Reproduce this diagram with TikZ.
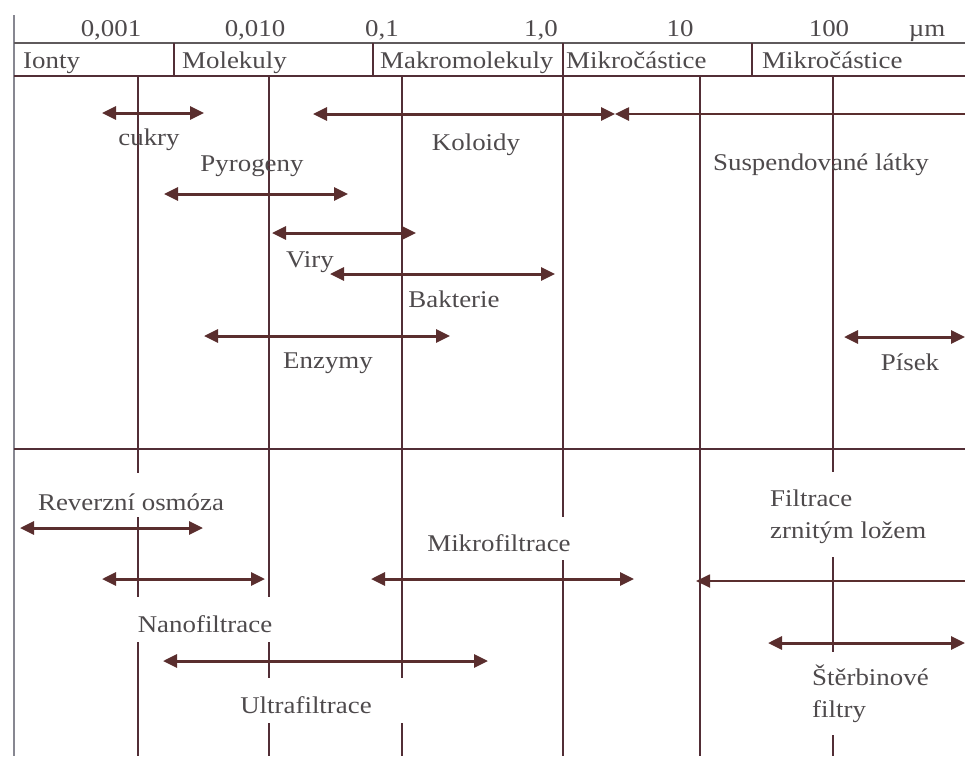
\documentclass[tikz,border=0pt]{standalone}
\usepackage{fontspec}
\setmainfont[FakeStretch=1.12]{Liberation Serif}
\usetikzlibrary{arrows.meta}
\definecolor{gridcol}{RGB}{82,46,54}
\definecolor{arrcol}{RGB}{90,46,46}
\definecolor{txtcol}{RGB}{78,74,76}
\definecolor{framecol}{RGB}{135,135,145}
\definecolor{headcol}{RGB}{95,90,92}
\begin{document}
\begin{tikzpicture}[x=1pt,y=-1pt,
  >={Triangle[length=14pt,width=13pt]},
  lbl/.style={text=txtcol,font=\fontsize{24}{28}\selectfont,inner sep=0pt,anchor=base},
  lblw/.style={lbl,anchor=base west},
  gridline/.style={draw=gridcol,line width=1.6pt},
  frameline/.style={draw=framecol,line width=2pt},
  rng/.style={draw=arrcol,line width=3pt,<->},
  rngl/.style={draw=arrcol,line width=2.6pt,<-}]
\useasboundingbox (0,0) rectangle (965,756);

% size scale
\node[lbl] (s1) at (111,36) {0,001};
\node[lbl] (s2) at (255,36) {0,010};
\node[lbl] (s3) at (382,36) {0,1};
\node[lbl] (s4) at (541,36) {1,0};
\node[lbl] (s5) at (680,36) {10};
\node[lbl] (s6) at (829,36) {100};
\node[lbl] (s7) at (927,36) {µm};

% header row with particle classes
\draw[frameline] (14,15) -- (14,756);
\draw[draw=headcol,line width=1.8pt] (14,43) -- (965,43);
\draw[draw=gridcol,line width=2pt] (14,76) -- (965,76);
\draw[gridline] (174,43) -- (174,76);
\draw[gridline] (373,43) -- (373,76);
\draw[gridline] (752,43) -- (752,76);
\node[lblw] (h1) at (23,68) {Ionty};
\node[lblw] (h2) at (182,68) {Molekuly};
\node[lblw] (h3) at (380,68) {Makromolekuly};
\node[lblw] (h4) at (566,68) {Mikročástice};
\node[lblw] (h5) at (762,68) {Mikročástice};

% divider between particles and separation processes
\draw[draw=gridcol,line width=1.8pt] (14,449) -- (965,449);

% decade grid lines (interrupted behind lower labels)
\draw[gridline] (138,76) -- (138,473) (138,517) -- (138,597) (138,642) -- (138,756);
\draw[gridline] (269,76) -- (269,597) (269,642) -- (269,678) (269,723) -- (269,756);
\draw[gridline] (402,76) -- (402,678) (402,723) -- (402,756);
\draw[gridline] (563,43) -- (563,517) (563,560) -- (563,756);
\draw[gridline] (700,76) -- (700,756);
\draw[gridline] (833,76) -- (833,472) (833,557) -- (833,652) (833,735) -- (833,756);

% particle ranges
\coordinate (cuA) at (102,113);  \coordinate (cuB) at (204,113);
\coordinate (koA) at (313,114);  \coordinate (koB) at (615,114);
\coordinate (suA) at (615,114);  \coordinate (suB) at (965,114);
\coordinate (pyA) at (164,194);  \coordinate (pyB) at (348,194);
\coordinate (viA) at (272,233);  \coordinate (viB) at (416,233);
\coordinate (baA) at (330,274);  \coordinate (baB) at (555,274);
\coordinate (enA) at (204,336);  \coordinate (enB) at (450,336);
\coordinate (piA) at (844,337);  \coordinate (piB) at (965,337);

\draw[rng] (cuA) -- (cuB);
\draw[rng] (koA) -- (koB);
\draw[rngl] (suA) -- (suB);
\draw[rng] (pyA) -- (pyB);
\draw[rng] (viA) -- (viB);
\draw[rng] (baA) -- (baB);
\draw[rng] (enA) -- (enB);
\draw[rng] (piA) -- (piB);

\node[lbl] (cukry) at (149,145) {cukry};
\node[lbl] (kol) at (476,150) {Koloidy};
\node[lbl] (pyr) at (252,171) {Pyrogeny};
\node[lbl] (sus) at (821,170) {Suspendované látky};
\node[lbl] (vir) at (310,267) {Viry};
\node[lbl] (bak) at (454,307) {Bakterie};
\node[lbl] (enz) at (328,368) {Enzymy};
\node[lbl] (pis) at (910,370) {Písek};

% separation process ranges
\coordinate (roA) at (20,528);   \coordinate (roB) at (203,528);
\coordinate (nfA) at (102,579);  \coordinate (nfB) at (265,579);
\coordinate (mfA) at (371,579);  \coordinate (mfB) at (634,579);
\coordinate (fzA) at (696,581);  \coordinate (fzB) at (965,581);
\coordinate (ufA) at (163,661);  \coordinate (ufB) at (488,661);
\coordinate (sfA) at (768,643);  \coordinate (sfB) at (965,643);

\draw[rng] (roA) -- (roB);
\draw[rng] (nfA) -- (nfB);
\draw[rng] (mfA) -- (mfB);
\draw[rngl,line width=1.9pt] (fzA) -- (fzB);
\draw[rng] (ufA) -- (ufB);
\draw[rng] (sfA) -- (sfB);

\node[lbl] (ro) at (131,510) {Reverzní osmóza};
\node[lbl] (mf) at (499,551) {Mikrofiltrace};
\node[lbl] (nf) at (205,632) {Nanofiltrace};
\node[lbl] (uf) at (306,713) {Ultrafiltrace};
\node[lblw] (fz1) at (770,506) {Filtrace};
\node[lblw] (fz2) at (770,538) {zrnitým ložem};
\node[lblw] (sf1) at (812,685) {Štěrbinové};
\node[lblw] (sf2) at (812,717) {filtry};
\end{tikzpicture}
\end{document}
